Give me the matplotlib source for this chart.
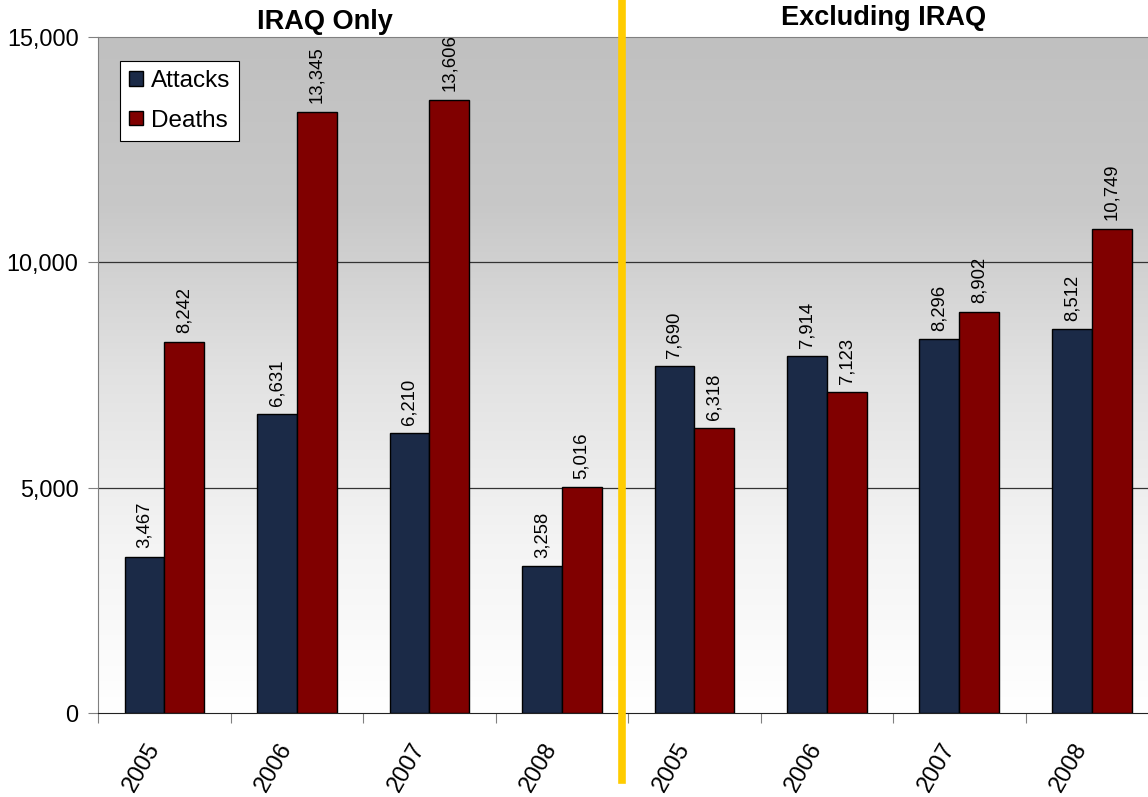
import matplotlib
matplotlib.use('Agg')
import matplotlib.pyplot as plt
from matplotlib.lines import Line2D
import numpy as np

plt.rcParams['font.family'] = ['Liberation Sans', 'DejaVu Sans']

groups = ['IRAQ Only', 'Excluding IRAQ']
years = ['2005', '2006', '2007', '2008', '2005', '2006', '2007', '2008']
attacks = [3467, 6631, 6210, 3258, 7690, 7914, 8296, 8512]
deaths = [8242, 13345, 13606, 5016, 6318, 7123, 8902, 10749]

attack_color = '#1b2a47'
death_color = '#800000'

W, H = 1148, 797
fig = plt.figure(figsize=(W / 100, H / 100), dpi=100)
ax = fig.add_axes([98 / W, 1 - 713 / H, 1060 / W, (713 - 37) / H])

x = np.arange(len(years))
bw = 0.3

# grey to white background
grad = np.linspace(0, 1, 256).reshape(-1, 1)
ax.imshow(grad, cmap=matplotlib.colors.LinearSegmentedColormap.from_list(
    'bg', ['#ffffff', '#f4f4f4', '#e2e2e2', '#c8c8c8', '#c0c0c0']),
    extent=[-0.5, 7.5, 0, 15000], aspect='auto', origin='lower', zorder=0)

for yv in [5000, 10000]:
    ax.axhline(yv, color='#333333', lw=0.9, zorder=1)

b1 = ax.bar(x - bw / 2, attacks, bw, color=attack_color, edgecolor='black', lw=1, label='Attacks', zorder=3)
b2 = ax.bar(x + bw / 2, deaths, bw, color=death_color, edgecolor='black', lw=1, label='Deaths', zorder=3)

for bars, vals in [(b1, attacks), (b2, deaths)]:
    for r, v in zip(bars, vals):
        ax.annotate(f'{v:,}', (r.get_x() + r.get_width() / 2, v), xytext=(0, 6),
                    textcoords='offset points', rotation=90, ha='center', va='bottom',
                    fontsize=13.3, zorder=4)

ax.set_xlim(-0.5, 7.5)
ax.set_ylim(0, 15000)
ax.set_yticks([0, 5000, 10000, 15000])
ax.set_yticklabels([f'{v:,}' for v in [0, 5000, 10000, 15000]], fontsize=16.8)
ax.tick_params(axis='y', direction='out', length=7, color='#808080', pad=7)

ax.set_xticks(np.arange(-0.5, 8, 1))
ax.set_xticklabels([])
ax.tick_params(axis='x', which='major', direction='out', length=7, color='#808080')
ax.set_xticks(x, minor=True)
ax.set_xticklabels(years, minor=True, rotation=60, ha='right', va='top', fontsize=17)
ax.tick_params(axis='x', which='minor', length=0, pad=19)

for s in ['left', 'top', 'right']:
    ax.spines[s].set_color('#808080')
ax.spines['bottom'].set_color('#222222')

leg = ax.legend(loc='upper left', bbox_to_anchor=(22 / 1060, (713 - 61) / 676), fontsize=17.5,
                frameon=True, fancybox=False, edgecolor='black', framealpha=1,
                handlelength=0.58, handleheight=0.55, handletextpad=0.3, borderpad=0.38,
                labelspacing=0.72, borderaxespad=0)
leg.get_frame().set_linewidth(0.8)
for h in leg.legend_handles:
    h.set_edgecolor('black')

fig.text(325 / W, 1 - 22 / H, groups[0], ha='center', va='center', fontsize=19.5, fontweight='bold')
fig.text(884 / W, 1 - 18 / H, groups[1], ha='center', va='center', fontsize=19.5, fontweight='bold')

fig.add_artist(Line2D([622 / W, 622 / W], [1 - 3 / H, 1 - 780 / H], color='#ffcc00', lw=5.5,
                      transform=fig.transFigure, zorder=10))

fig.savefig('out.png', dpi=100)
